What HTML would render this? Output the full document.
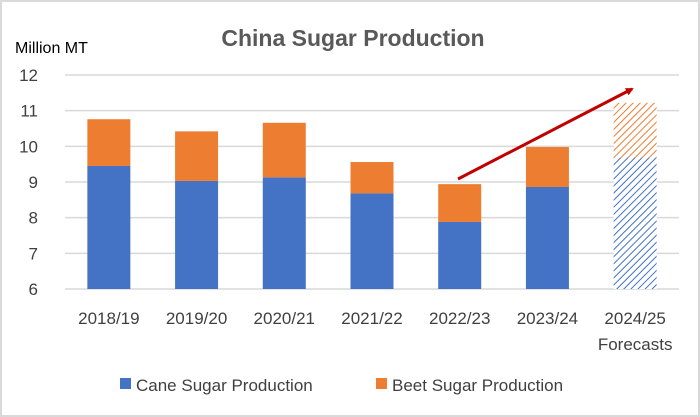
<!DOCTYPE html>
<html><head><meta charset="utf-8"><style>
html,body{margin:0;padding:0;background:#fff}
svg{display:block;font-family:"Liberation Sans",sans-serif}
</style></head><body>
<svg width="700" height="417" viewBox="0 0 700 417">
<defs>
<pattern id="hb" width="5" height="5" patternUnits="userSpaceOnUse" patternTransform="rotate(45)">
<rect width="5" height="5" fill="#fff"/><line x1="0" y1="0" x2="0" y2="5" stroke="#4472c4" stroke-width="2"/></pattern>
<pattern id="ho" width="5" height="5" patternUnits="userSpaceOnUse" patternTransform="rotate(45)">
<rect width="5" height="5" fill="#fff"/><line x1="0" y1="0" x2="0" y2="5" stroke="#ed7d31" stroke-width="2"/></pattern>
<marker id="ah" markerWidth="8" markerHeight="8" refX="6" refY="4" orient="auto" markerUnits="userSpaceOnUse"><path d="M0,0 L8,4 L0,8 Z" fill="#c00000"/></marker>
</defs>
<rect x="1" y="1" width="698" height="415" fill="#fff" stroke="#d9d9d9" stroke-width="2"/>
<text x="353" y="46" text-anchor="middle" font-size="23" font-weight="bold" fill="#595959">China Sugar Production</text>
<text x="15" y="53" font-size="16" fill="#000">Million MT</text>
<g id="grid"></g><g id="bars"></g><g id="xlabels"></g>
<line x1="458" y1="179" x2="632" y2="89" stroke="#c00000" stroke-width="3" marker-end="url(#ah)"/>
<rect x="120" y="378" width="11" height="11" fill="#4472c4"/>
<text x="136" y="391" font-size="17" fill="#404040">Cane Sugar Production</text>
<rect x="376" y="378" width="11" height="11" fill="#ed7d31"/>
<text x="392" y="391" font-size="17" fill="#404040">Beet Sugar Production</text>
</svg>
<script>
const categories=["2018/19","2019/20","2020/21","2021/22","2022/23","2023/24","2024/25"];
const caneValues=[9.45,9.03,9.13,8.68,7.88,8.86,9.69];
const totalValues=[10.76,10.42,10.66,9.56,8.94,9.98,11.22];
const forecastFlags=[false,false,false,false,false,false,true];
const yTicks=[6,7,8,9,10,11,12];
const NS="http://www.w3.org/2000/svg";
const x0=65,x1=679,yMin=6,yMax=12,py0=289,py1=75;
const y=v=>py0-(v-yMin)/(yMax-yMin)*(py0-py1);
const bw=(x1-x0)/categories.length;
const xc=i=>x0+bw*(i+0.5);
function mk(t,a,p){const e=document.createElementNS(NS,t);for(const k in a)e.setAttribute(k,a[k]);p.appendChild(e);return e;}
const g=document.getElementById('grid');
yTicks.forEach(t=>{
 const l=mk('line',{x1:x0,x2:x1,y1:y(t),y2:y(t),stroke:'#d9d9d9','stroke-width':1.5},g);
 
 
 const tx=mk('text',{x:38,y:y(t)+6,'text-anchor':'end','font-size':17,fill:'#404040'},g);
 tx.textContent=t;
 
 
});
const b=document.getElementById('bars'),xl=document.getElementById('xlabels');
const w=43;
categories.forEach((c,i)=>{
 const f=forecastFlags[i];
 const r1=mk('rect',{x:xc(i)-w/2,y:y(caneValues[i]),width:w,height:y(yMin)-y(caneValues[i]),fill:f?'url(#hb)':'#4472c4'},b);
 
 
 const r2=mk('rect',{x:xc(i)-w/2,y:y(totalValues[i]),width:w,height:y(caneValues[i])-y(totalValues[i]),fill:f?'url(#ho)':'#ed7d31'},b);
 
 
 const t=mk('text',{x:xc(i),y:324,'text-anchor':'middle','font-size':17,fill:'#404040'},xl);
 t.textContent=c;
 
 
 if(f){const t2=mk('text',{x:xc(i),y:350,'text-anchor':'middle','font-size':17,fill:'#404040'},xl);
 t2.textContent='Forecasts';
 
 }
});
</script>
</body></html>
